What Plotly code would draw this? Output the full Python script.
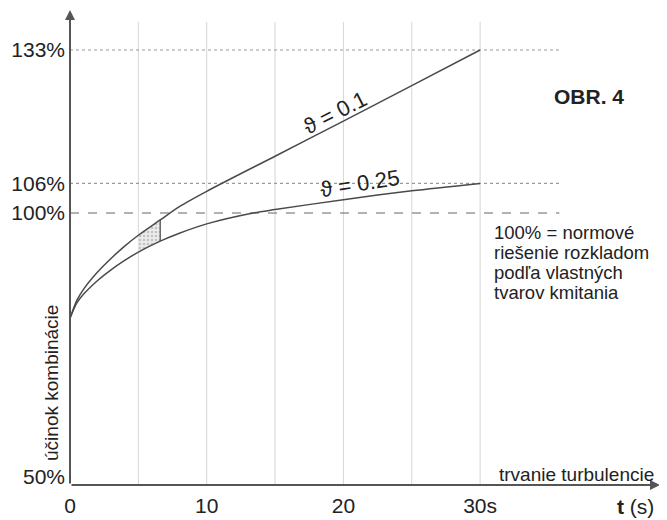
import plotly.graph_objects as go

# ---------------- data ----------------
T_01 = [0, 0.5, 1, 2, 3, 4, 5, 6.6, 8, 10, 15, 20, 25, 30]
V_01 = [78.7, 82.3, 84.6, 88.0, 90.8, 93.3, 95.5, 98.6, 101.3, 104.4, 111.5, 118.6, 125.8, 133.0]

T_025 = [0, 0.5, 1, 2, 3, 4, 5, 6.6, 8, 10, 13.4, 15, 20, 25, 30]
V_025 = [78.7, 81.8, 83.6, 86.3, 88.5, 90.4, 92.1, 94.3, 95.9, 97.8, 100.0, 100.7, 102.7, 104.5, 106.0]

HATCH_FROM, HATCH_TO = 5, 6.6

GRID_T = [5, 10, 15, 20, 25, 30]
X_TICKS = [0, 10, 20, 30]
X_TICK_TEXT = ["0", "10", "20", "30s"]
Y_TICKS = [46.6, 100, 106, 133]          # axis is broken below 100 %: "50%" sits at the bottom
Y_TICK_TEXT = ["50%", "100%", "106%", "133%"]
REF_DOTTED = [133, 106]
REF_DASHED = [100]

LABEL_01 = "ϑ = 0.1"
LABEL_025 = "ϑ = 0.25"
NOTE_LINES = ["100% = normové", "riešenie rozkladom", "podľa vlastných", "tvarov kmitania"]
TITLE = "OBR. 4"
Y_TITLE = "účinok kombinácie"
X_NOTE = "trvanie turbulencie"
X_UNIT = "<b>t</b> (s)"

# ---------------- layout constants ----------------
X_MIN, X_MAX = 0, 43.16
Y_MIN, Y_MAX = 44.94, 141.1
REF_END = 35.8
GRID_TOP = 138.7
FONT = "Liberation Sans, Arial, sans-serif"
TXT = "#222222"
CURVE = "#4a4a4a"
AXIS = "#555555"

fig = go.Figure()

# hatched area between the curves
up = [(t, v) for t, v in zip(T_01, V_01) if HATCH_FROM <= t <= HATCH_TO]
lo = [(t, v) for t, v in zip(T_025, V_025) if HATCH_FROM <= t <= HATCH_TO]
poly = up + lo[::-1]
fig.add_trace(go.Scatter(
    x=[p[0] for p in poly], y=[p[1] for p in poly],
    mode="lines", fill="toself", line=dict(width=0),
    fillcolor="#e4e4e4",
    fillpattern=dict(shape=".", fgcolor="#9a9a9a", bgcolor="#ececec", size=4, solidity=0.35),
    hoverinfo="skip", showlegend=False))
fig.add_trace(go.Scatter(
    x=[HATCH_TO, HATCH_TO], y=[lo[-1][1], up[-1][1]],
    mode="lines", line=dict(color=CURVE, width=1.2), hoverinfo="skip", showlegend=False))

# curves
fig.add_trace(go.Scatter(x=T_01, y=V_01, mode="lines",
                         line=dict(color=CURVE, width=1.5, shape="spline", smoothing=0.8),
                         showlegend=False))
fig.add_trace(go.Scatter(x=T_025, y=V_025, mode="lines",
                         line=dict(color=CURVE, width=1.5, shape="spline", smoothing=0.8),
                         showlegend=False))

shapes = []
for t in GRID_T:
    shapes.append(dict(type="line", xref="x", yref="y", x0=t, x1=t, y0=Y_MIN, y1=GRID_TOP,
                       line=dict(color="#d6d6d6", width=1), layer="below"))
for v in REF_DOTTED:
    shapes.append(dict(type="line", xref="x", yref="y", x0=X_MIN, x1=REF_END, y0=v, y1=v,
                       line=dict(color="#9a9a9a", width=1.2, dash="dot"), layer="below"))
for v in REF_DASHED:
    shapes.append(dict(type="line", xref="x", yref="y", x0=X_MIN, x1=REF_END, y0=v, y1=v,
                       line=dict(color="#666666", width=1.2, dash="dash"), layer="below"))

annotations = [
    # axis arrows
    dict(x=X_MAX, y=Y_MIN, ax=X_MIN, ay=Y_MIN, xref="x", yref="y", axref="x", ayref="y",
         text="", showarrow=True, arrowhead=2, arrowsize=1, arrowwidth=2, arrowcolor=AXIS),
    dict(x=X_MIN, y=Y_MAX, ax=X_MIN, ay=Y_MIN, xref="x", yref="y", axref="x", ayref="y",
         text="", showarrow=True, arrowhead=2, arrowsize=1, arrowwidth=2, arrowcolor=AXIS),
    # texts
    dict(x=19.4, y=120.4, xref="x", yref="y", text=LABEL_01, showarrow=False, textangle=-27,
         xanchor="center", yanchor="middle", font=dict(family=FONT, size=22, color=TXT)),
    dict(x=21.2, y=105.9, xref="x", yref="y", text=LABEL_025, showarrow=False, textangle=-9,
         xanchor="center", yanchor="middle", font=dict(family=FONT, size=22, color=TXT)),
    dict(x=38.0, y=123.5, xref="x", yref="y", text="<b>" + TITLE + "</b>", showarrow=False,
         xanchor="center", yanchor="middle", font=dict(family=FONT, size=21, color=TXT)),
    dict(x=42.9, y=47.0, xref="x", yref="y", text=X_NOTE, showarrow=False,
         xanchor="right", yanchor="middle", font=dict(family=FONT, size=19, color=TXT)),
    dict(x=42.9, y=-0.046, xref="x", yref="paper", text=X_UNIT, showarrow=False,
         xanchor="right", yanchor="middle", font=dict(family=FONT, size=21, color=TXT)),
    dict(x=0, y=65.6, xref="paper", yref="y", xshift=-18, text=Y_TITLE, showarrow=False,
         xanchor="center", yanchor="middle", textangle=-90,
         font=dict(family=FONT, size=19, color=TXT)),
]
note_y = [96.15, 92.0, 88.0, 84.0]
for line, yv in zip(NOTE_LINES, note_y):
    annotations.append(dict(x=30.9, y=yv, xref="x", yref="y", text=line, showarrow=False,
                            xanchor="left", yanchor="middle",
                            font=dict(family=FONT, size=18.5, color=TXT)))

# the page adds an 8 px body margin, so the figure is sized/offset to compensate
fig.update_layout(
    width=659, height=512,
    margin=dict(l=62, r=7, t=2, b=35),
    paper_bgcolor="white", plot_bgcolor="white",
    shapes=shapes, annotations=annotations,
    xaxis=dict(range=[X_MIN, X_MAX], showgrid=False, zeroline=False, showline=False,
               automargin=False,
               tickvals=X_TICKS, ticktext=X_TICK_TEXT, ticks="", ticklabelstandoff=6,
               tickfont=dict(family=FONT, size=21, color=TXT), fixedrange=True),
    yaxis=dict(range=[Y_MIN, Y_MAX], showgrid=False, zeroline=False, showline=False,
               automargin=False,
               tickvals=Y_TICKS, ticktext=Y_TICK_TEXT, ticks="", ticklabelstandoff=4,
               tickfont=dict(family=FONT, size=21, color=TXT), fixedrange=True),
)

fig.write_html("out.html")
